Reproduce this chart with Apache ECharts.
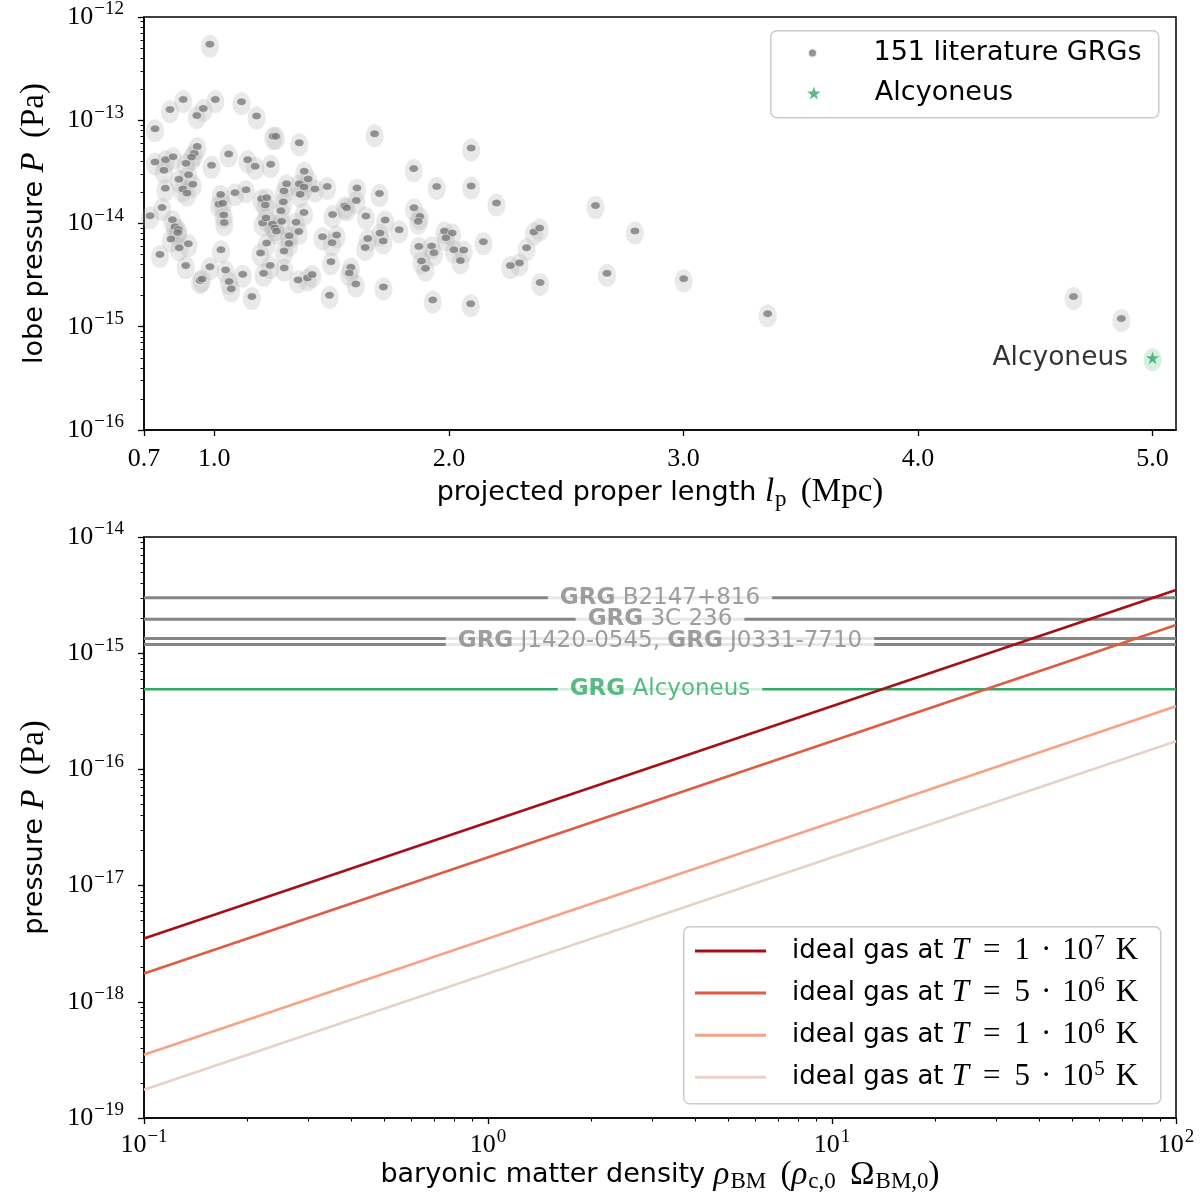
<!DOCTYPE html>
<html><head><meta charset="utf-8">
<script src="https://cdn.jsdelivr.net/npm/echarts@6/dist/echarts.min.js"></script>
<style>html,body{margin:0;padding:0;background:#fff}#c{width:1200px;height:1200px}</style>
</head><body><div id="c"></div>
<script>
// ---------- top panel data ----------
const grgLength = [0.981,0.867,0.811,0.953,0.925,1.004,1.116,1.180,0.747,1.251,1.262,1.362,1.683,0.927,0.914,0.903,0.747,0.792,0.824,0.785,
0.879,0.890,0.988,1.061,1.142,1.174,1.240,1.383,1.400,1.362,1.382,1.308,1.297,1.366,1.429,1.481,1.608,1.704,0.849,0.908,
0.791,0.865,0.883,1.027,1.088,1.135,1.201,1.223,1.217,1.294,1.020,1.035,0.777,0.726,1.040,1.042,1.284,1.382,1.504,1.556,
1.564,1.605,1.646,1.728,1.788,0.821,0.832,0.846,0.844,0.815,0.889,0.850,0.768,1.206,1.220,1.248,1.258,1.265,1.287,1.348,
1.360,1.319,1.318,1.297,1.223,1.197,1.238,1.210,1.298,1.028,0.878,0.981,1.048,1.121,0.939,0.947,1.063,1.072,1.160,1.357,
1.397,1.417,1.461,1.521,1.502,1.497,1.491,1.582,1.575,1.603,1.654,1.643,1.706,1.720,1.721,2.095,1.850,1.948,2.095,2.203,
2.625,2.793,1.851,1.876,1.869,1.981,2.014,1.987,1.872,1.926,1.936,2.021,2.063,2.049,1.883,1.900,2.147,2.331,2.362,2.387,
2.262,2.301,2.389,2.674,1.931,2.093,3.001,3.359,4.663,4.867];
const grgPressure = [5.46e-13,1.59e-13,1.27e-13,1.30e-13,1.11e-13,1.59e-13,1.51e-13,1.10e-13,8.26e-14,6.98e-14,6.98e-14,6.05e-14,7.39e-14,5.58e-14,4.78e-14,4.40e-14,3.94e-14,4.15e-14,4.43e-14,3.28e-14,
3.83e-14,2.97e-14,3.66e-14,4.71e-14,4.15e-14,3.58e-14,3.74e-14,3.21e-14,2.70e-14,2.42e-14,2.26e-14,2.42e-14,2.07e-14,1.92e-14,2.16e-14,2.28e-14,2.21e-14,1.95e-14,2.68e-14,2.40e-14,
2.20e-14,2.16e-14,1.97e-14,1.91e-14,1.99e-14,2.12e-14,1.74e-14,1.78e-14,1.51e-14,1.62e-14,1.54e-14,1.57e-14,1.43e-14,1.19e-14,1.21e-14,1.02e-14,1.33e-14,1.28e-14,1.22e-14,1.48e-14,
1.42e-14,1.67e-14,1.18e-14,1.08e-14,8.70e-15,1.09e-14,9.29e-15,8.75e-15,8.19e-15,7.07e-15,6.37e-15,5.82e-15,5.02e-15,1.01e-14,1.13e-14,9.87e-15,9.03e-15,8.45e-15,1.05e-14,1.03e-14,
8.37e-15,7.61e-15,6.41e-15,5.42e-15,6.47e-15,5.18e-15,3.93e-15,3.29e-15,3.71e-15,5.57e-15,3.91e-15,3.82e-15,3.55e-15,3.22e-15,2.80e-15,2.90e-15,2.74e-15,2.33e-15,1.96e-15,2.84e-15,
2.97e-15,3.20e-15,7.45e-15,7.73e-15,6.51e-15,4.27e-15,2.02e-15,3.76e-15,3.32e-15,2.60e-15,7.16e-15,5.86e-15,8.07e-15,6.76e-15,2.43e-15,5.38e-14,3.40e-14,2.28e-14,2.31e-14,1.58e-14,
1.49e-14,8.45e-15,1.42e-14,1.17e-14,1.05e-14,8.45e-15,8.07e-15,7.28e-15,6.00e-15,6.05e-15,5.21e-15,5.57e-15,5.53e-15,4.37e-15,4.34e-15,3.68e-15,6.65e-15,5.82e-15,8.26e-15,9.03e-15,
3.91e-15,4.15e-15,2.68e-15,3.29e-15,1.82e-15,1.67e-15,2.92e-15,1.34e-15,1.96e-15,1.20e-15];
const alcLength = [5.0];
const alcPressure = [5.0e-16];
const topXTicks = [0.7, 1.0, 2.0, 3.0, 4.0, 5.0];

// ---------- bottom panel data ----------
const densityRange = [0.1, 100];
const tempMantissa = [1, 5, 1, 5];
const tempExponent = [7, 6, 6, 5];
const gasPressureAtLow = [3.5e-18, 1.75e-18, 3.5e-19, 1.75e-19];
const gasPressureAtHigh = [3.5e-15, 1.75e-15, 3.5e-16, 1.75e-16];
const refNames = ['B2147+816', '3C 236', 'J1420-0545', 'J0331-7710', 'Alcyoneus'];
const refPressure = [3.0e-15, 1.96e-15, 1.19e-15, 1.34e-15, 4.89e-16];
const refLabelGroups = [[0], [1], [2, 3], [4]];

// ---------- styles ----------
const gasColors = ['#a50f15', '#e05a44', '#f6a385', '#e8d2c8'];
const GREEN = '#2eaa66', GREY = '#868686';
const SANS = 'DejaVu Sans', SERIF = 'Liberation Serif';
const ELLIPSE = 'path://M0,50 C0,22 22,0 50,0 C78,0 100,22 100,50 C100,78 78,100 50,100 C22,100 0,78 0,50 Z';
const EGG = 'path://M50,0 C78,0 100,30 100,68 C100,104 78,130 50,130 C22,130 0,104 0,68 C0,30 22,0 50,0 Z';
const STAR = 'path://M50,0 L61,35 L98,35 L68,57 L79,91 L50,70 L21,91 L32,57 L2,35 L39,35 Z';

const tickRich = {
  b: {fontFamily: SERIF, fontSize: 26, color: '#000'},
  s: {fontFamily: SERIF, fontSize: 19, color: '#000', padding: [0, 0, 15, 1]}
};
const powLabel = v => { const e = Math.round(Math.log10(v)); return '{b|10}{s|' + (e < 0 ? '\u2212' + (-e) : e) + '}'; };
const nameRich = {
  s: {fontFamily: SANS, fontSize: 27, color: '#000'},
  i: {fontFamily: SERIF, fontStyle: 'italic', fontSize: 33, color: '#000'},
  r: {fontFamily: SERIF, fontSize: 33, color: '#000'},
  sp: {fontFamily: SERIF, fontSize: 33, color: '#000', padding: [0, 3, 0, 3]},
  sub: {fontFamily: SERIF, fontSize: 23, color: '#000', padding: [14, 0, 0, 1]}
};
function minorLogTicks(lo, hi) {
  const out = [];
  for (let e = lo; e < hi; e++) for (let k = 2; k <= 9; k++) out.push(e + Math.log10(k));
  return out;
}
const axisLineStyle = {show: true, onZero: false, lineStyle: {color: '#000', width: 1.5}};
const majorTick = {show: true, length: 6, lineStyle: {color: '#000', width: 1.3}};
const minorTickAxis = (gridIndex, lo, hi, pos) => ({
  type: 'value', gridIndex, min: lo, max: hi, position: pos,
  axisLine: {show: false, onZero: false}, splitLine: {show: false}, axisLabel: {show: false},
  axisTick: {show: true, length: 3.5, lineStyle: {color: '#000', width: 1}, customValues: minorLogTicks(lo, hi)}
});

const grids = [
  {left: 144, right: 24, top: 15.5, height: 414.5, show: true, borderColor: '#000', borderWidth: 1.5, backgroundColor: 'transparent'},
  {left: 144, right: 24, top: 537, height: 581, show: true, borderColor: '#000', borderWidth: 1.5, backgroundColor: 'transparent'}
];

const xAxes = [
  {type: 'value', gridIndex: 0, min: 0.7, max: 5.1, splitLine: {show: false}, axisLine: axisLineStyle,
   axisTick: Object.assign({customValues: topXTicks}, majorTick),
   axisLabel: {customValues: topXTicks, formatter: v => v.toFixed(1), fontFamily: SERIF, fontSize: 26, color: '#000', margin: 16},
   name: '{s|projected proper length }{i|l}{sub|p}{sp| }{r|(Mpc)}', nameLocation: 'middle', nameGap: 44,
   nameTextStyle: {rich: nameRich, fontSize: 26}},
  {type: 'log', logBase: 10, gridIndex: 1, min: densityRange[0], max: densityRange[1], splitLine: {show: false},
   axisLine: axisLineStyle, axisTick: majorTick,
   axisLabel: {formatter: powLabel, rich: tickRich, margin: 10},
   name: '{s|baryonic matter density }{i|\u03c1}{sub|BM}{sp| }{r|(}{i|\u03c1}{sub|c,0}{sp| }{r|\u03a9}{sub|BM,0}{r|)}',
   nameLocation: 'middle', nameGap: 36, nameTextStyle: {rich: nameRich, fontSize: 26}},
  minorTickAxis(1, -1, 2, 'bottom')
];
const yAxes = [
  {type: 'log', logBase: 10, gridIndex: 0, min: 1e-16, max: 1e-12, splitLine: {show: false},
   axisLine: axisLineStyle, axisTick: majorTick,
   axisLabel: {formatter: powLabel, rich: tickRich, margin: 20},
   name: '{s|lobe pressure }{i|P}{sp| }{r|(Pa)}', nameLocation: 'middle', nameGap: 93,
   nameTextStyle: {rich: nameRich, fontSize: 26}},
  minorTickAxis(0, -16, -12, 'left'),
  {type: 'log', logBase: 10, gridIndex: 1, min: 1e-19, max: 1e-14, splitLine: {show: false},
   axisLine: axisLineStyle, axisTick: majorTick,
   axisLabel: {formatter: powLabel, rich: tickRich, margin: 20},
   name: '{s|pressure }{i|P}{sp| }{r|(Pa)}', nameLocation: 'middle', nameGap: 93,
   nameTextStyle: {rich: nameRich, fontSize: 26}},
  minorTickAxis(1, -19, -14, 'left')
];

const grgPoints = grgLength.map((x, i) => [x, grgPressure[i]]);
const alcPoints = alcLength.map((x, i) => [x, alcPressure[i]]);

const series = [
  {type: 'scatter', name: 'halo', xAxisIndex: 0, yAxisIndex: 0, data: grgPoints, symbol: EGG, symbolSize: [18, 23],
   symbolOffset: [0, 2], itemStyle: {color: 'rgba(175,175,175,0.34)'}, z: 2, silent: true},
  {type: 'scatter', name: 'haloA', xAxisIndex: 0, yAxisIndex: 0, data: alcPoints, symbol: EGG, symbolSize: [18, 23],
   symbolOffset: [0, 2], itemStyle: {color: 'rgba(60,179,113,0.25)'}, z: 2, silent: true},
  {type: 'scatter', name: '151 literature GRGs', xAxisIndex: 0, yAxisIndex: 0, data: grgPoints, symbol: ELLIPSE,
   symbolSize: [9.5, 7.5], itemStyle: {color: '#7a7a7a', borderColor: '#fff', borderWidth: 0.6}, z: 3},
  {type: 'scatter', name: 'Alcyoneus', xAxisIndex: 0, yAxisIndex: 0, data: alcPoints, symbol: STAR, symbolSize: 13,
   itemStyle: {color: GREEN}, z: 3,
   label: {show: true, position: 'left', distance: 18, formatter: 'Alcyoneus', fontFamily: SANS, fontSize: 26.5, color: '#000'}}
];

// reference horizontal lines
refPressure.forEach((p, i) => {
  series.push({type: 'line', name: 'ref' + i, xAxisIndex: 1, yAxisIndex: 2,
    data: [[densityRange[0], p], [densityRange[1], p]], symbol: 'none', silent: true,
    lineStyle: {color: i === 4 ? GREEN : GREY, width: i === 4 ? 2.6 : 3}, z: 2});
});
// labels on reference lines (centred in the panel)
const xMid = Math.sqrt(densityRange[0] * densityRange[1]);
refLabelGroups.forEach(g => {
  const yMid = Math.pow(10, g.reduce((s, k) => s + Math.log10(refPressure[k]), 0) / g.length);
  const txt = g.map(k => '{b|GRG}{n| ' + refNames[k] + '}').join('{n|, }');
  const col = g.includes(4) ? GREEN : GREY;
  series.push({type: 'scatter', name: 'lab' + g[0], xAxisIndex: 1, yAxisIndex: 2, data: [[xMid, yMid]],
    symbolSize: 1, itemStyle: {color: 'rgba(0,0,0,0)'}, silent: true, z: 5,
    label: {show: true, position: 'inside', formatter: txt, backgroundColor: '#fff', padding: [1, 12, 1, 12],
      rich: {b: {fontFamily: SANS, fontWeight: 'bold', fontSize: 23, color: col},
             n: {fontFamily: SANS, fontSize: 23, color: col}}}});
});
// ideal gas lines
const gasNames = tempMantissa.map((m, i) => 'gas' + i);
tempMantissa.forEach((m, i) => {
  series.push({type: 'line', name: gasNames[i], xAxisIndex: 1, yAxisIndex: 2,
    data: [[densityRange[0], gasPressureAtLow[i]], [densityRange[1], gasPressureAtHigh[i]]],
    symbol: 'none', showSymbol: false, lineStyle: {color: gasColors[i], width: 2.6}, itemStyle: {color: gasColors[i]}, z: 3});
});

const legendText = {fontFamily: SANS, fontSize: 27, color: '#000', lineHeight: 30};
const option = {
  animation: false,
  backgroundColor: '#fff',
  grid: grids, xAxis: xAxes, yAxis: yAxes, series,
  legend: [
    {data: [{name: '151 literature GRGs', icon: 'circle'}], left: 807, top: 38, padding: 0, itemWidth: 20, itemHeight: 9,
     selectedMode: false, textStyle: Object.assign({padding: [0, 0, 0, 46]}, legendText)},
    {data: [{name: 'Alcyoneus', icon: STAR}], left: 807, top: 78, padding: 0, itemWidth: 20, itemHeight: 13,
     selectedMode: false, textStyle: Object.assign({padding: [0, 0, 0, 46]}, legendText)},
    {data: gasNames.map(n => ({name: n, icon: 'rect'})), orient: 'vertical', left: 695, top: 933, padding: 0,
     itemWidth: 71, itemHeight: 3, itemGap: 8.6, selectedMode: false,
     formatter: name => { const i = gasNames.indexOf(name);
       return '{s|ideal gas at }{i|T}{op|=}{r|' + tempMantissa[i] + '}{dt|\u00b7}{r|10}{p|' + tempExponent[i] + '}{k|K}'; },
     textStyle: {padding: [0, 0, 0, 21], rich: {
       s: {fontFamily: SANS, fontSize: 26, color: '#000', lineHeight: 30},
       i: {fontFamily: SERIF, fontStyle: 'italic', fontSize: 31, color: '#000', lineHeight: 30},
       op: {fontFamily: SERIF, fontSize: 31, color: '#000', lineHeight: 30, padding: [0, 14, 0, 14]},
       dt: {fontFamily: SERIF, fontSize: 31, color: '#000', lineHeight: 30, padding: [0, 11, 0, 11]},
       r: {fontFamily: SERIF, fontSize: 31, color: '#000', lineHeight: 30},
       k: {fontFamily: SERIF, fontSize: 31, color: '#000', lineHeight: 30, padding: [0, 0, 0, 11]},
       p: {fontFamily: SERIF, fontSize: 21, color: '#000', padding: [0, 0, 15, 1]}}}}
  ],
  graphic: [
    {type: 'rect', left: 770, top: 30, z: 3, shape: {width: 388, height: 87, r: 6},
     style: {fill: 'rgba(255,255,255,0.85)', stroke: '#cccccc', lineWidth: 1.5}},
    {type: 'rect', left: 683, top: 926, z: 3, shape: {width: 477, height: 177, r: 6},
     style: {fill: 'rgba(255,255,255,0.85)', stroke: '#cccccc', lineWidth: 1.5}}
  ]
};
const chart = echarts.init(document.getElementById('c'), null, {renderer: 'canvas'});
chart.setOption(option);
</script></body></html>
